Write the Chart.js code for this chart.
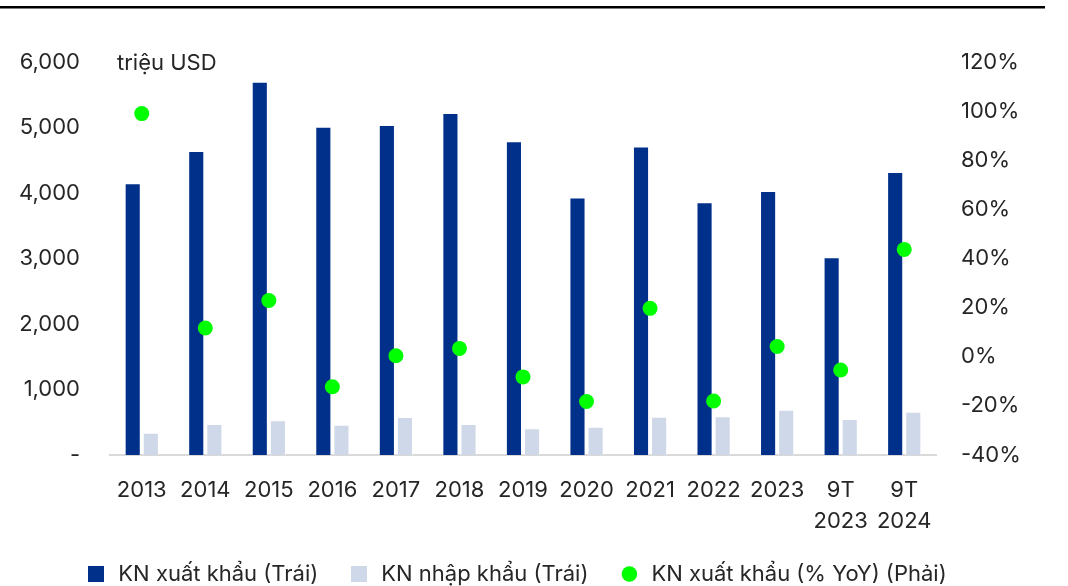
<!DOCTYPE html>
<html>
<head>
<meta charset="utf-8">
<script src="https://cdn.jsdelivr.net/npm/chart.js@4.4.1/dist/chart.umd.min.js"></script>
<style>
  html, body { margin: 0; padding: 0; background: #fff; }
  #wrap { width: 1068px; height: 586px; }
</style>
</head>
<body>
<div id="wrap"><canvas id="chart" width="1068" height="586"></canvas></div>
<script>
// du lieu
const labels = ["2013", "2014", "2015", "2016", "2017", "2018", "2019", "2020", "2021", "2022", "2023", ["9T", "2023"], ["9T", "2024"]];
const exportValues = [4150, 4640, 5700, 5010, 5040, 5220, 4790, 3930, 4710, 3860, 4030, 3020, 4320];
const importValues = [340, 475, 530, 460, 580, 475, 410, 430, 585, 590, 690, 550, 660];
const exportYoY = [99, 11.7, 22.9, -12.2, 0.4, 3.4, -8.2, -18.2, 19.7, -18, 4.2, -5.4, 43.7];

const darkBlue = "#00308A";
const lightBlue = "#CFD8E9";
const green = "#00FF00";
const textColor = "#262626";
const fontFamily = "Inter, 'Noto Sans', sans-serif";

// o vuong cho chu giai
function legendSquare(color) {
  const c = document.createElement("canvas");
  c.width = 16;
  c.height = 16;
  const g = c.getContext("2d");
  g.fillStyle = color;
  g.fillRect(0, 0, 16, 16);
  return c;
}

const extras = {
  id: "extras",
  beforeDraw(chart) {
    const ctx = chart.ctx;
    ctx.save();
    ctx.fillStyle = "#000";
    ctx.fillRect(0, 6, 1045, 2.5);
    ctx.restore();
  },
  afterDraw(chart) {
    const ctx = chart.ctx;
    ctx.save();
    ctx.fillStyle = textColor;
    ctx.font = "22px " + fontFamily;
    ctx.textBaseline = "middle";
    ctx.textAlign = "left";
    ctx.fillText("triệu USD", 117, 63);
    ctx.restore();
  },
};

const ctx = document.getElementById("chart").getContext("2d");
new Chart(ctx, {
  type: "bar",
  data: {
    labels: labels,
    datasets: [
      {
        label: "KN xuất khẩu (Trái)",
        data: exportValues,
        backgroundColor: darkBlue,
        borderColor: "rgba(255,255,255,0.6)",
        borderWidth: 1,
        yAxisID: "y",
        order: 1,
      },
      {
        label: "KN nhập khẩu (Trái)",
        data: importValues,
        backgroundColor: lightBlue,
        borderColor: "rgba(255,255,255,0.6)",
        borderWidth: 1,
        yAxisID: "y",
        order: 1,
      },
      {
        type: "line",
        label: "KN xuất khẩu (% YoY) (Phải)",
        data: exportYoY,
        showLine: false,
        pointRadius: 7.5,
        pointHoverRadius: 7.5,
        pointBackgroundColor: green,
        pointBorderColor: green,
        pointBorderWidth: 0,
        backgroundColor: green,
        borderColor: green,
        yAxisID: "y1",
        order: 0,
      },
    ],
  },
  options: {
    responsive: false,
    animation: false,
    layout: { padding: { top: 62, left: 0, right: 36, bottom: -9 } },
    datasets: {
      bar: { categoryPercentage: 0.57, barPercentage: 0.89 },
    },
    scales: {
      x: {
        grid: { display: false, drawTicks: false },
        border: { display: true, color: "#D9D9D9", width: 2 },
        afterFit: (scale) => { scale.height = 78; },
        ticks: {
          color: textColor,
          padding: 19,
          maxRotation: 0,
          autoSkip: false,
          font: { family: fontFamily, size: 22, lineHeight: 1.45 },
        },
      },
      y: {
        position: "left",
        min: 0,
        max: 6000,
        grid: { display: false, drawTicks: false },
        border: { display: false },
        afterFit: (scale) => { scale.width = 110; },
        ticks: {
          stepSize: 1000,
          color: textColor,
          padding: 30,
          font: { family: fontFamily, size: 22 },
          callback: (v) => (v === 0 ? "-" : v.toLocaleString("en-US")),
        },
      },
      y1: {
        position: "right",
        min: -40,
        max: 120,
        grid: { display: false, drawTicks: false },
        border: { display: false },
        afterFit: (scale) => { scale.width = 96; },
        ticks: {
          stepSize: 20,
          color: textColor,
          padding: 25,
          font: { family: fontFamily, size: 22 },
          callback: (v) => v + "%",
        },
      },
    },
    plugins: {
      tooltip: { enabled: false },
      legend: {
        position: "bottom",
        labels: {
          color: textColor,
          usePointStyle: true,
          boxHeight: 11,
          padding: 30,
          font: { family: fontFamily, size: 22 },
          sort: (a, b) => a.datasetIndex - b.datasetIndex,
          generateLabels: (chart) => {
            const items = Chart.defaults.plugins.legend.labels.generateLabels(chart);
            items.forEach((it) => {
              if (it.datasetIndex === 0) it.pointStyle = legendSquare(darkBlue);
              else if (it.datasetIndex === 1) it.pointStyle = legendSquare(lightBlue);
              else it.pointStyle = "circle";
              it.lineWidth = 0;
            });
            return items;
          },
        },
      },
    },
  },
  plugins: [extras],
});
</script>
</body>
</html>
